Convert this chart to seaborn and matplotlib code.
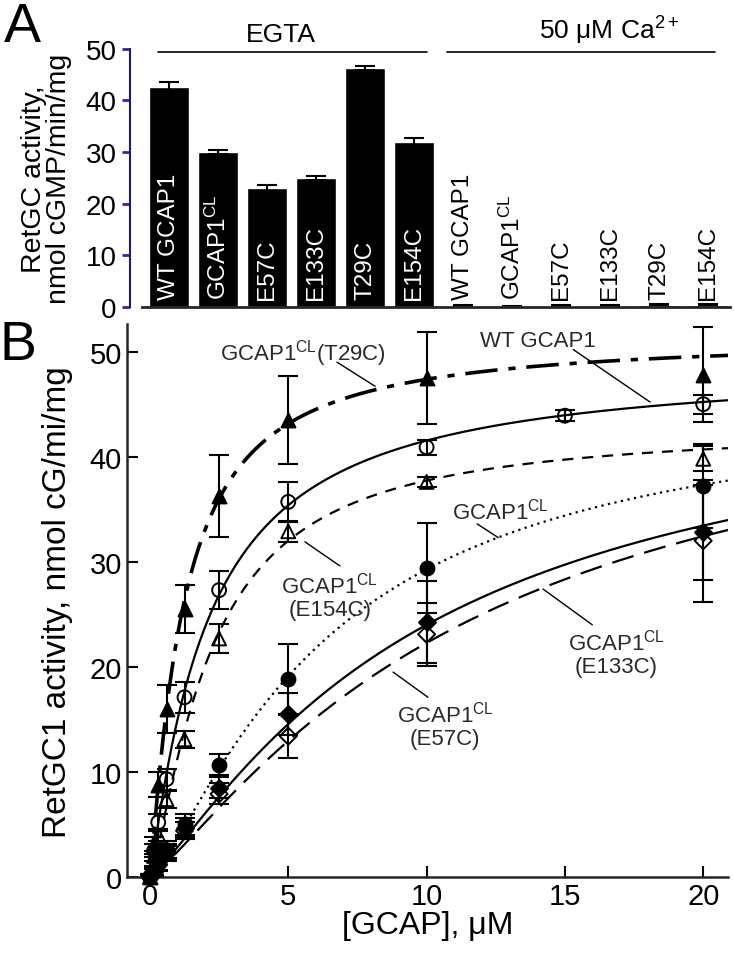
import matplotlib
matplotlib.use('Agg')
import matplotlib.pyplot as plt
import seaborn as sns
import numpy as np
import pandas as pd

# ---- panel A: bar data ----
bar_labels = ['WT GCAP1', 'GCAP1$^{CL}$', 'E57C', 'E133C', 'T29C', 'E154C']
egta_act = [42.5, 30.0, 23.0, 25.0, 46.3, 32.0]
egta_err = [1.0, 0.3, 0.6, 0.4, 0.4, 0.7]
ca_act = [0.3, 0.2, 0.3, 0.3, 0.5, 0.5]
ca_err = [0.1, 0.1, 0.1, 0.1, 0.1, 0.1]

# ---- panel B: dose response ----
x_std = [0, 0.15, 0.3, 0.6, 1.25, 2.5, 5, 10, 20]
x_wt = [0, 0.15, 0.3, 0.6, 1.25, 2.5, 5, 10, 15, 20]

t29c_y = [0, 3.0, 8.8, 16.0, 25.5, 36.3, 43.5, 47.5, 47.8]
t29c_e = [0.3, 0.8, 1.2, 2.3, 2.3, 3.9, 4.2, 4.4, 4.5]
wt_y = [0, 2.5, 5.2, 9.3, 17.1, 27.3, 35.7, 40.9, 43.9, 45.0]
wt_e = [0.3, 0.6, 0.8, 1.0, 1.5, 1.8, 1.9, 0.7, 0.5, 0.9]
e154c_y = [0, 2.0, 4.0, 7.4, 13.1, 22.7, 32.9, 37.6, 39.8]
e154c_e = [0.2, 0.5, 0.6, 0.8, 0.8, 1.4, 1.0, 0.5, 1.2]
cl_y = [0, 0.6, 1.3, 2.6, 5.0, 10.7, 18.8, 29.4, 37.2]
cl_e = [0.2, 0.4, 0.6, 0.8, 1.0, 1.0, 3.4, 4.3, 4.0]
e133c_y = [0, 0.5, 1.2, 2.4, 4.7, 8.5, 15.5, 24.3, 32.8]
e133c_e = [0.2, 0.4, 0.5, 0.7, 0.9, 1.0, 2.0, 3.9, 4.5]
e57c_y = [0, 0.5, 1.1, 2.2, 4.4, 7.9, 13.4, 23.1, 32.0]
e57c_e = [0.2, 0.3, 0.5, 0.7, 0.8, 1.0, 2.1, 3.0, 5.8]

# fitted curves (Vmax, K1/2, Hill)
fit_t29c = (51.5, 1.2, 1.15)
fit_wt = (49.0, 2.1, 1.1)
fit_e154c = (43.0, 2.2, 1.3)
fit_cl = (46.0, 6.5, 1.3)
fit_e133c = (48.0, 10.0, 1.2)
fit_e57c = (50.0, 12.0, 1.2)


def hill(x, p):
    vmax, k, n = p
    x = np.asarray(x, dtype=float)
    return vmax * x ** n / (k ** n + x ** n)


sns.set_style('ticks')
plt.rcParams['font.family'] = ['Liberation Sans', 'DejaVu Sans']
plt.rcParams['mathtext.default'] = 'regular'
plt.rcParams['text.color'] = 'black'
plt.rcParams['axes.labelcolor'] = 'black'
plt.rcParams['xtick.color'] = 'black'
plt.rcParams['ytick.color'] = 'black'

fig = plt.figure(figsize=(7.34, 9.54), dpi=100)
axA = fig.add_axes([0.177, 0.677, 0.818, 0.271])
axB = fig.add_axes([0.173, 0.0797, 0.819, 0.5793])

# ================= panel A =================
pos = np.arange(12)
df_a = pd.DataFrame({'pos': pos, 'act': egta_act + ca_act})
sns.barplot(data=df_a, x='pos', y='act', native_scale=True, width=0.82,
            color='black', saturation=1, errorbar=None, ax=axA)
axA.errorbar(pos, egta_act + ca_act, yerr=egta_err + ca_err, fmt='none',
             ecolor='black', elinewidth=1.5, capsize=7, capthick=1.5)

for i, lab in enumerate(bar_labels):
    axA.text(i, 1.5, lab, rotation=90, ha='center', va='bottom',
             color='white', fontsize=17.5)
    axA.text(i + 6, 1.5, lab, rotation=90, ha='center', va='bottom',
             color='black', fontsize=17.5)

axA.set_xlim(-0.8, 11.45)
axA.set_ylim(0, 50)
axA.set_yticks([0, 10, 20, 30, 40, 50])
axA.set_xticks([])
axA.set_xlabel('')
axA.set_ylabel('RetGC activity,\nnmol cGMP/min/mg', fontsize=20.5, labelpad=10,
               linespacing=0.92)
axA.tick_params(axis='y', labelsize=20, color='#2a2aa0', labelcolor='black',
                width=2, length=6, direction='out')
for s in ['top', 'right']:
    axA.spines[s].set_visible(False)
axA.spines['left'].set_color('#1c1c60')
axA.spines['left'].set_linewidth(1.5)
axA.spines['bottom'].set_linewidth(2)
axA.spines['bottom'].set_bounds(-0.55, 11.45)

# group headers
axA.plot([-0.22, 5.27], [49.4, 49.4], color='black', lw=1.2, clip_on=False)
axA.plot([5.67, 11.14], [49.4, 49.4], color='black', lw=1.2, clip_on=False)
axA.text(2.27, 50.5, 'EGTA', ha='center', va='bottom', fontsize=19)
axA.text(8.98, 50.5, '50 μM Ca$^{2+}$', ha='center', va='bottom', fontsize=19)

# ================= panel B =================
xs = np.linspace(0, 21, 400)
series = [
    (x_std, t29c_y, t29c_e, fit_t29c, '^', 'black', (0, (9, 3, 2, 3)), 2.6),
    (x_wt, wt_y, wt_e, fit_wt, 'o', 'none', '-', 1.6),
    (x_std, e154c_y, e154c_e, fit_e154c, '^', 'none', (0, (5, 4)), 1.6),
    (x_std, cl_y, cl_e, fit_cl, 'o', 'black', (0, (1, 2)), 1.6),
    (x_std, e133c_y, e133c_e, fit_e133c, 'D', 'black', '-', 1.6),
    (x_std, e57c_y, e57c_e, fit_e57c, 'D', 'none', (0, (10, 5)), 1.6),
]

for xv, yv, ev, fit, mk, fc, ls, lw in series:
    sns.lineplot(x=xs, y=hill(xs, fit), color='black', lw=lw, ax=axB)
    axB.lines[-1].set_linestyle(ls)
    axB.errorbar(xv, yv, yerr=ev, fmt='none', ecolor='black',
                 elinewidth=1.5, capsize=7, capthick=1.5, zorder=3)
    sns.scatterplot(x=xv, y=yv, marker=mk, s=100 if mk != 'D' else 75,
                    facecolor=fc, edgecolor='black', linewidth=1.4,
                    ax=axB, zorder=4, clip_on=False)

axB.set_xlim(-0.83, 20.9)
axB.set_ylim(0, 52.6)
axB.set_xticks([0, 5, 10, 15, 20])
axB.set_yticks([0, 10, 20, 30, 40, 50])
axB.tick_params(labelsize=21, direction='in', width=1.5, length=8)
axB.set_xlabel('[GCAP], μM', fontsize=23, labelpad=0)
axB.set_ylabel('RetGC1 activity, nmol cG/mi/mg', fontsize=24, labelpad=12)
for s in ['top', 'right']:
    axB.spines[s].set_visible(False)
for s in ['left', 'bottom']:
    axB.spines[s].set_linewidth(1.8)

# annotations with leader lines
ann_fs = 16
ann_c = '#2a2a2a'
axB.text(5.53, 49.9, 'GCAP1$^{CL}$(T29C)', ha='center', va='center', fontsize=ann_fs, color=ann_c)
axB.plot([6.76, 8.14], [49.0, 46.7], color='black', lw=1)
axB.text(14.03, 51.1, 'WT GCAP1', ha='center', va='center', fontsize=ann_fs, color=ann_c)
axB.plot([15.3, 18.08], [50.2, 45.2], color='black', lw=1)
axB.text(6.5, 26.8, 'GCAP1$^{CL}$\n(E154C)', ha='center', va='center', fontsize=ann_fs,
         color=ann_c, linespacing=1.1)
axB.plot([6.87, 5.6], [29.6, 31.9], color='black', lw=1)
axB.text(12.66, 34.9, 'GCAP1$^{CL}$', ha='center', va='center', fontsize=ann_fs, color=ann_c)
axB.plot([11.83, 12.59], [33.6, 32.3], color='black', lw=1)
axB.text(16.85, 21.3, 'GCAP1$^{CL}$\n(E133C)', ha='center', va='center', fontsize=ann_fs,
         color=ann_c, linespacing=1.1)
axB.plot([14.21, 15.99], [27.4, 24.0], color='black', lw=1)
axB.text(10.67, 14.5, 'GCAP1$^{CL}$\n(E57C)', ha='center', va='center', fontsize=ann_fs,
         color=ann_c, linespacing=1.1)
axB.plot([8.79, 10.05], [19.5, 17.1], color='black', lw=1)

# panel letters
fig.text(0.005, 0.998, 'A', fontsize=40, va='top', ha='left')
fig.text(0.0, 0.665, 'B', fontsize=40, va='top', ha='left')

fig.savefig('out.png', dpi=100)
